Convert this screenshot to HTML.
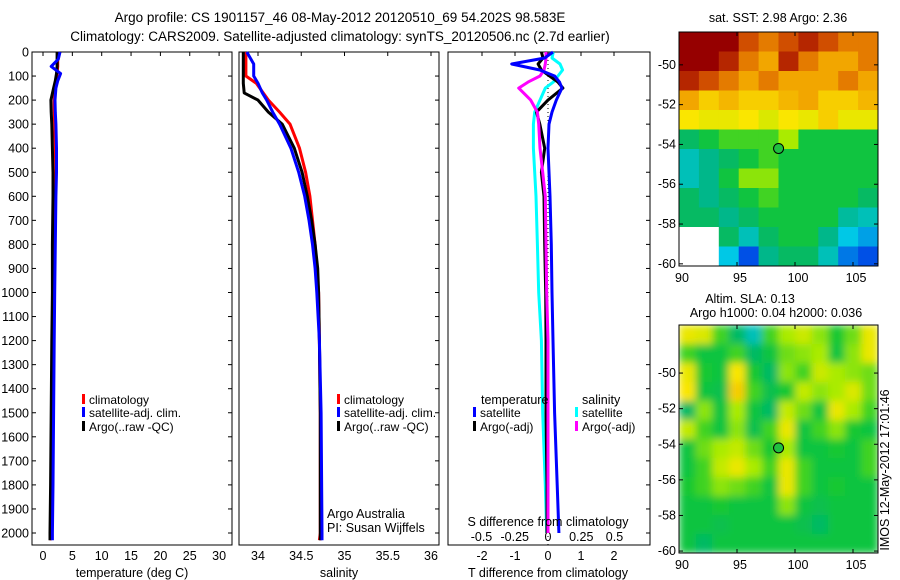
<!DOCTYPE html>
<html><head><meta charset="utf-8"><style>
body{margin:0;background:#fff;}
svg{display:block;font-family:"Liberation Sans",sans-serif;}
text{font-size:12.5px;fill:#000;}
</style></head><body>
<svg id="c" width="900" height="580" viewBox="0 0 900 580">
<defs>
<filter id="blur" x="0" y="0" width="1" height="1"><feGaussianBlur stdDeviation="4" edgeMode="duplicate"/></filter>
<clipPath id="slaClip"><rect x="679" y="325" width="199" height="228"/></clipPath>
</defs>
<text x="340" y="22" text-anchor="middle" style="font-size:13.5px">Argo profile: CS 1901157_46 08-May-2012 20120510_69 54.202S 98.583E</text>
<text x="340" y="41" text-anchor="middle" style="font-size:13.5px">Climatology: CARS2009. Satellite-adjusted climatology: synTS_20120506.nc (2.7d earlier)</text>
<g id="g"></g>
</svg>
<script>
// ---- data ----
const tDepth=[0,30,60,90,120,150,200,250,300,400,500,600,800,1000,1200,1500,1800,2000,2030];
const tClim=[2.6,2.5,2.5,2.4,2.3,2.1,1.9,1.9,2.0,2.1,2.2,2.1,1.9,1.8,1.7,1.6,1.5,1.4,1.2];
const tSat=[2.9,2.6,1.4,3.0,2.5,2.2,2.05,2.1,2.2,2.3,2.3,2.2,2.1,2.0,1.9,1.8,1.7,1.6,1.6];
const tArgo=[2.4,2.4,2.4,2.3,2.1,1.8,1.35,1.4,1.5,1.6,1.7,1.7,1.6,1.6,1.5,1.4,1.3,1.2,1.2];
const sDepth=[0,50,100,130,170,200,250,300,400,500,600,700,800,900,1000,1200,1500,2000,2030];
const sClim=[33.86,33.86,33.86,33.98,34.06,34.12,34.25,34.37,34.48,34.55,34.6,34.63,34.66,34.68,34.7,34.71,34.72,34.72,34.71];
const sSat=[33.87,33.95,33.95,34.0,34.05,34.1,34.17,34.25,34.38,34.47,34.54,34.59,34.63,34.66,34.68,34.71,34.73,34.74,34.74];
const sArgo=[33.83,33.83,33.83,33.83,33.84,34.0,34.12,34.28,34.42,34.51,34.57,34.62,34.66,34.69,34.7,34.71,34.72,34.72,34.72];
const dDepth=[0,25,50,75,100,125,150,200,250,300,400,500,600,800,1000,1200,1500,1800,2000];
const dTSat=[0.15,-0.1,-1.1,-0.25,0.2,0.35,0.42,0.25,0.12,0.03,0,0.03,0.06,0.1,0.12,0.15,0.2,0.28,0.33];
const dTArgo=[-0.2,-0.15,-0.3,-0.2,0.05,0.3,0.45,0,-0.35,-0.25,-0.1,-0.2,-0.12,-0.1,-0.07,-0.06,-0.06,-0.03,-0.03];
const dSSat=[0.04,0.03,0.09,0.11,0.075,0.04,-0.02,-0.06,-0.1,-0.11,-0.11,-0.1,-0.09,-0.08,-0.07,-0.05,-0.04,-0.02,-0.01];
const dSArgo=[-0.015,-0.015,-0.02,-0.03,-0.06,-0.15,-0.22,-0.13,-0.08,-0.07,-0.06,-0.04,-0.02,-0.015,-0.01,0,0,0,0];
const depthTicks=[0,100,200,300,400,500,600,700,800,900,1000,1100,1200,1300,1400,1500,1600,1700,1800,1900,2000];
const tTicks=[0,5,10,15,20,25,30];
const sTicks=[34,34.5,35,35.5,36];
const dtTicks=[-2,-1,0,1,2];
const dsTicks=[-0.5,-0.25,0,0.25,0.5];
const latTicks=[-50,-52,-54,-56,-58,-60];
const lonTicks=[90,95,100,105];
const sstGrid=[
[1,1,1,.9,.85,.9,.95,.9,.85,.85],
[1,1,.95,.85,.8,.95,.85,.8,.8,.85],
[.95,.9,.85,.8,.85,.8,.8,.8,.85,.8],
[.8,.75,.78,.75,.75,.78,.8,.75,.75,.78],
[.72,.7,.7,.72,.68,.72,.7,.75,.7,.7],
[.45,.5,.55,.55,.55,.62,.5,.5,.5,.5],
[.35,.4,.45,.5,.55,.5,.5,.5,.5,.5],
[.35,.4,.5,.6,.6,.5,.5,.5,.5,.5],
[.45,.4,.45,.5,.55,.5,.5,.5,.5,.45],
[.45,.45,.4,.45,.5,.5,.5,.5,.38,.35],
[-1,-1,.45,.35,.45,.5,.5,.4,.3,.25],
[-1,-1,.3,.15,.4,.45,.45,.35,.2,.15]];
const slaGrid=[
[.7,.68,.55,.45,.35,.55,.62,.66,.6,.52,.58,.7],
[.55,.5,.5,.55,.45,.5,.58,.6,.62,.5,.6,.7],
[.7,.52,.5,.72,.52,.45,.6,.55,.66,.62,.6,.58],
[.72,.5,.48,.75,.55,.48,.52,.65,.6,.62,.68,.58],
[.45,.6,.5,.62,.5,.45,.65,.58,.5,.7,.62,.55],
[.65,.55,.5,.6,.48,.55,.7,.5,.55,.6,.52,.5],
[.5,.58,.62,.65,.58,.52,.62,.5,.5,.52,.5,.55],
[.5,.55,.65,.7,.62,.55,.7,.55,.5,.5,.5,.55],
[.52,.55,.6,.58,.55,.5,.7,.55,.5,.52,.5,.5],
[.5,.5,.52,.5,.5,.5,.6,.5,.48,.5,.5,.5],
[.5,.5,.48,.5,.5,.5,.5,.48,.45,.5,.5,.5],
[.5,.45,.5,.5,.5,.5,.5,.5,.5,.5,.5,.5]];
const floatLon=98.583, floatLat=-54.202;

// ---- helpers ----
const NS="http://www.w3.org/2000/svg";
const G=document.getElementById('g');
function el(tag,attrs,parent){const e=document.createElementNS(NS,tag);for(const k in attrs)e.setAttribute(k,attrs[k]);(parent||G).appendChild(e);return e;}
function txt(x,y,s,anchor,size){const t=el('text',{x:x,y:y,'text-anchor':anchor||'start'});if(size)t.style.fontSize=size+'px';t.textContent=s;return t;}
const yD=d=>52+d*0.2405;
const PT=52, PB=545;
const xT=t=>43+5.87*t;
const xS=s=>258+86.5*(s-34);
const xDT=v=>548+33*v;
const xDS=v=>548+133*v;

function panel(x0,x1,name,leftTicks){
  const r=el('rect',{x:x0,y:PT,width:x1-x0,height:PB-PT,fill:'#fff',stroke:'#000','stroke-width':1});
  
  depthTicks.forEach(d=>{if(leftTicks)el('line',{x1:x0,x2:x0+4,y1:yD(d),y2:yD(d),stroke:'#000'});el('line',{x1:x1,x2:x1-4,y1:yD(d),y2:yD(d),stroke:'#000'});});
}
function line(xs,ds,xf,color,name,w){
  const p=xs.map((v,i)=>xf(v).toFixed(1)+','+yD(ds[i]).toFixed(1)).join(' ');
  const l=el('polyline',{points:p,fill:'none',stroke:color,'stroke-width':w||3,'stroke-linejoin':'round'});
  
}
function xticks(vals,xf,y,nm){
  vals.forEach(v=>{const x=xf(v);el('line',{x1:x,x2:x,y1:PT,y2:PT+4,stroke:'#000'});
    const t=txt(x,y,String(v),'middle');});
}
function legItem(x,y,color,label,nm){
  const r=el('rect',{x:x,y:y-10,width:3,height:10,fill:color});
  const t=txt(x+7,y,label,'start',12);
}

depthTicks.forEach(d=>{const t=txt(29,yD(d)+4.5,String(d),'end',12.5);});

// panel 1
panel(32,232,'temperature-panel',true);
xticks(tTicks,xT,560,'temperature-tick-label');
line(tClim,tDepth,xT,'#f00','temp-climatology-line');
line(tArgo,tDepth,xT,'#000','temp-argo-line');
line(tSat,tDepth,xT,'#00f','temp-satellite-line');
txt(132,577,'temperature (deg C)','middle');
legItem(82,404,'#f00','climatology','legend-climatology');
legItem(82,417,'#00f','satellite-adj. clim.','legend-satellite-adj');
legItem(82,431,'#000','Argo(..raw -QC)','legend-argo');

// panel 2
panel(239,439,'salinity-panel',false);
xticks(sTicks,xS,560,'salinity-tick-label');
line(sClim,sDepth,xS,'#f00','sal-climatology-line');
line(sArgo,sDepth,xS,'#000','sal-argo-line');
line(sSat,sDepth,xS,'#00f','sal-satellite-line');
txt(339,577,'salinity','middle');
legItem(337,404,'#f00','climatology','legend2-climatology');
legItem(337,417,'#00f','satellite-adj. clim.','legend2-satellite-adj');
legItem(337,431,'#000','Argo(..raw -QC)','legend2-argo');
txt(327,518,'Argo Australia');
txt(327,532,'PI: Susan Wijffels');

// panel 3
panel(448,650,'difference-panel',false);
xticks(dtTicks,xDT,560,'t-diff-tick-label');
dsTicks.forEach(v=>{const t=txt(xDS(v),541,String(v),'middle');});
el('line',{x1:548,x2:548,y1:PT,y2:PB,stroke:'#000','stroke-dasharray':'1,3'});
line(dSSat,dDepth,xDS,'#0ff','s-diff-satellite-line');
line(dTArgo,dDepth,xDT,'#000','t-diff-argo-line');
line(dSArgo,dDepth,xDS,'#f0f','s-diff-argo-line');
line(dTSat,dDepth,xDT,'#00f','t-diff-satellite-line');
txt(548,526,'S difference from climatology','middle');
txt(548,577,'T difference from climatology','middle');
txt(481,404,'temperature');
txt(582,404,'salinity');
legItem(473,417,'#00f','satellite','legend-t-satellite');
legItem(473,431,'#000','Argo(-adj)','legend-t-argo');
legItem(575,417,'#0ff','satellite','legend-s-satellite');
legItem(575,431,'#f0f','Argo(-adj)','legend-s-argo');

// colormap
const stops=[[0,[0,0,140]],[.15,[0,80,230]],[.3,[0,200,230]],[.42,[0,180,120]],[.52,[20,200,50]],[.62,[170,235,0]],[.72,[250,230,0]],[.82,[240,150,0]],[.92,[200,60,0]],[1,[150,0,0]]];
function cmap(v){if(v<0)return '#fff';for(let i=1;i<stops.length;i++){if(v<=stops[i][0]){const a=stops[i-1],b=stops[i],f=(v-a[0])/(b[0]-a[0]);return 'rgb('+a[1].map((c,k)=>Math.round(c+(b[1][k]-c)*f)).join(',')+')';}}return 'rgb(150,0,0)';}

function map(grid,x0,y0,w,h,latTop,latPerPx,nm,smooth){
  const rows=grid.length,cols=grid[0].length,cw=w/cols,ch=h/rows;
  let parent=G;
  if(smooth){const outer=el('g',{'clip-path':'url(#slaClip)'});parent=el('g',{filter:'url(#blur)'},outer);}
  grid.forEach((row,i)=>row.forEach((v,j)=>{const c=el('rect',{x:(x0+j*cw).toFixed(2),y:(y0+i*ch).toFixed(2),width:(cw+0.5).toFixed(2),height:(ch+0.5).toFixed(2),fill:cmap(v)},parent);
    }));
  const b=el('rect',{x:x0,y:y0,width:w,height:h,fill:'none',stroke:'#000'});
  const xL=lon=>x0+(lon-90)*11.6;
  const yL=lat=>y0+(latTop-lat)*latPerPx;
  latTicks.forEach(l=>{const y=yL(l);el('line',{x1:x0,x2:x0+4,y1:y,y2:y,stroke:'#000'});el('line',{x1:x0+w,x2:x0+w-4,y1:y,y2:y,stroke:'#000'});
    const t=txt(x0-3,y+4,String(l),'end');});
  lonTicks.forEach(l=>{const x=xL(l);el('line',{x1:x,x2:x,y1:y0,y2:y0+4,stroke:'#000'});el('line',{x1:x,x2:x,y1:y0+h,y2:y0+h-4,stroke:'#000'});
    const t=txt(x+3,y0+h+16,String(l),'middle');});
  const m=el('ellipse',{cx:xL(floatLon),cy:yL(floatLat),rx:5,ry:5,fill:'#20c040',stroke:'#000'});
  
}
map(sstGrid,679,32,199,234,-48.35,19.9,'sst-map',false);
map(slaGrid,679,325,199,228,-47.3,17.8,'sla-map',true);
txt(778,22,'sat. SST: 2.98 Argo: 2.36','middle');
txt(750,303,'Altim. SLA: 0.13','middle');
txt(776,317,'Argo h1000: 0.04 h2000: 0.036','middle');
const stamp=txt(0,0,'IMOS 12-May-2012 17:01:46','middle');
stamp.setAttribute('transform','translate(889,470) rotate(-90)');


</script>
</body></html>
